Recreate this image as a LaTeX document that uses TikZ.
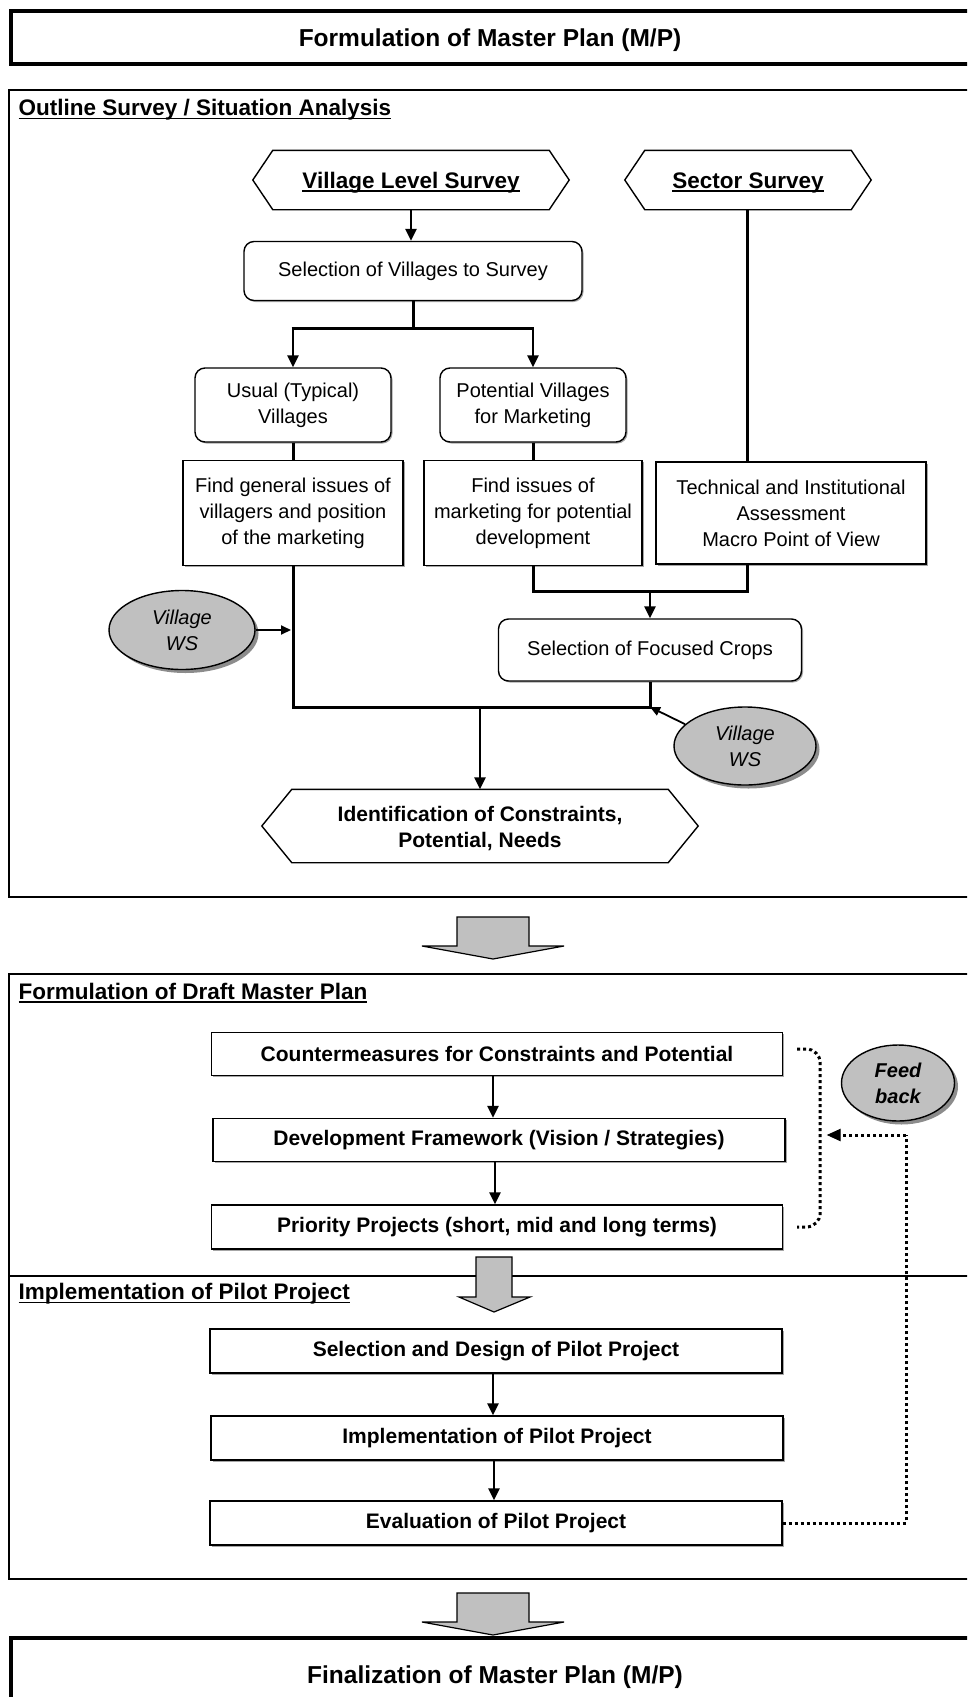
\documentclass[tikz,border=0pt]{standalone}
\usepackage{fontspec}
\setmainfont{Liberation Sans}
\usetikzlibrary{arrows.meta,shapes.geometric,shadows}
\definecolor{wsgray}{RGB}{192,192,192}
\newcommand{\myul}[1]{\setbox0\hbox{#1}\rlap{\rule[-3.5pt]{\wd0}{1.8pt}}\box0}
\begin{document}
\begin{tikzpicture}[x=1pt,y=-1pt,
  normtxt/.style={font=\fontsize{20}{26}\selectfont},
  boldtxt/.style={font=\bfseries\fontsize{21}{26}\selectfont},
  headtxt/.style={font=\bfseries\fontsize{22.5}{27}\selectfont},
  rbox/.style={draw, line width=1.4pt, rounded corners=10pt, fill=white, align=center, inner sep=0pt, normtxt,
     drop shadow={shadow xshift=1.5pt, shadow yshift=-1.5pt, fill=black!35, opacity=1}},
  sbox/.style={draw, line width=1.4pt, fill=white, align=center, inner sep=0pt, normtxt,
     drop shadow={shadow xshift=1.5pt, shadow yshift=-1.5pt, fill=black!35, opacity=1}},
  bbox/.style={sbox, boldtxt},
  hexlabel/.style={inner sep=0pt, align=center},
  wsnode/.style={ellipse, draw, line width=1.4pt, fill=wsgray, inner sep=0pt, align=center,
     font=\itshape\fontsize{20}{26}\selectfont,
     drop shadow={shadow xshift=3.5pt, shadow yshift=-3.5pt, fill=black!45, opacity=1}},
  conn/.style={line width=3pt},
  arr/.style={line width=2.6pt, -{Triangle[length=12pt,width=11pt]}},
  thinarr/.style={line width=1.8pt, -{Triangle[length=10pt,width=9pt]}},
  dotline/.style={line width=3pt, dash pattern=on 3pt off 3pt},
  blockarrow/.style={draw, line width=1.2pt, fill=wsgray, line join=miter},
  frame/.style={draw, line width=1.5pt},
  heavyframe/.style={draw, line width=3.5pt}
]
\useasboundingbox (0,0) rectangle (967,1697);
\clip (0,0) rectangle (967,1697);
\fill[white] (0,0) rectangle (967,1697);

% ---------- top title box ----------
\draw[heavyframe] (11,11) rectangle (995,64);
\node[font=\bfseries\fontsize{24.5}{28}\selectfont] (toptitle) at (490,40) {Formulation of Master Plan (M/P)};

% ---------- section 1 ----------
\draw[frame] (9,90) rectangle (995,897);
\node[headtxt, anchor=west] (s1title) at (15,110) {\myul{Outline Survey / Situation Analysis}};

\node[hexlabel, minimum width=316pt, minimum height=59pt] (vls) at (411,180) {};
\draw[line width=1.4pt, fill=white] (vls.west) -- ([xshift=20pt]vls.north west) -- ([xshift=-20pt]vls.north east)
   -- (vls.east) -- ([xshift=-20pt]vls.south east) -- ([xshift=20pt]vls.south west) -- cycle;
\node[hexlabel, headtxt] (vlslabel) at ([yshift=-3pt]vls.center) {\myul{Village Level Survey}};

\node[hexlabel, minimum width=246pt, minimum height=59pt] (ss) at (748,180) {};
\draw[line width=1.4pt, fill=white] (ss.west) -- ([xshift=20pt]ss.north west) -- ([xshift=-20pt]ss.north east)
   -- (ss.east) -- ([xshift=-20pt]ss.south east) -- ([xshift=20pt]ss.south west) -- cycle;
\node[hexlabel, headtxt] (sslabel) at ([yshift=-3pt]ss.center) {\myul{Sector Survey}};

\node[rbox, minimum width=338pt, minimum height=59pt] (sel) at (413,271) {Selection of Villages to Survey};
\node[rbox, minimum width=196pt, minimum height=74pt] (usual) at (293,405) {Usual (Typical)\\Villages};
\node[rbox, minimum width=186pt, minimum height=74pt] (pot) at (533,405) {Potential Villages\\for Marketing};

\node[sbox, minimum width=220pt, minimum height=105pt] (fg) at (293,513) {Find general issues of\\villagers and position\\of the marketing};
\node[sbox, minimum width=218pt, minimum height=105pt] (fi) at (533,513) {Find issues of\\marketing for potential\\development};
\node[sbox, minimum width=270pt, minimum height=102pt] (tech) at (791,513) {Technical and Institutional\\Assessment\\Macro Point of View};

\node[rbox, minimum width=303pt, minimum height=62pt] (fc) at (650,650) {Selection of Focused Crops};

\node[hexlabel, minimum width=436pt, minimum height=73pt] (idn) at (480,826) {};
\draw[line width=1.4pt, fill=white] (idn.west) -- ([xshift=30pt]idn.north west) -- ([xshift=-30pt]idn.north east)
   -- (idn.east) -- ([xshift=-30pt]idn.south east) -- ([xshift=30pt]idn.south west) -- cycle;
\node[hexlabel, boldtxt] (idnlabel) at ([yshift=-3pt]idn.center) {Identification of Constraints,\\Potential, Needs};

\node[wsnode, minimum width=146pt, minimum height=79pt] (wsl) at (182,630) {Village\\WS};
\node[wsnode, minimum width=142pt, minimum height=78pt] (wsr) at (745,746) {Village\\WS};

% connectors section 1
\draw[arr] (vls.south) -- (vls.south |- sel.north);
\coordinate (bl) at (293,328);
\coordinate (bri) at (533,328);
\draw[conn] (sel.south) -- (sel.south |- bl);
\draw[conn] ([xshift=-1.3pt]bl) -- ([xshift=1.3pt]bri);
\draw[arr] (bl) -- (bl |- usual.north);
\draw[arr] (bri) -- (bri |- pot.north);
\draw[conn] (usual.south) -- (fg.north);
\draw[conn] (pot.south) -- (fi.north);
\coordinate (j1) at (747,591);
\draw[conn] (747,209) -- (747,462);
\draw[conn] (fi.south) |- (j1) -- (j1 |- tech.south);
\draw[arr] (fc.north |- j1) -- (fc.north);
\coordinate (j2) at (650,707);
\draw[conn] (fg.south) |- (j2) -- (fc.south);
\draw[arr] (idn.north |- j2) -- (idn.north);
\coordinate (wslend) at (291,630);
\draw[thinarr] (wsl.east) -- (wslend);
\draw[thinarr] (wsr.160) -- (j2);

% ---------- block arrow 1 ----------
\draw[blockarrow] (457,917) -- (529,917) -- (529,946) -- (564,946) -- (493,959) -- (422,946) -- (457,946) -- cycle;

% ---------- section 2 & 3 ----------
\draw[frame] (9,974) rectangle (995,1579);
\draw[frame] (9,1276) -- (995,1276);
\node[headtxt, anchor=west] (s2title) at (15,993) {\myul{Formulation of Draft Master Plan}};
\node[headtxt, anchor=west] (s3title) at (15,1294) {\myul{Implementation of Pilot Project}};

\node[bbox, minimum width=571pt, minimum height=43pt] (cm) at (497,1054) {Countermeasures for Constraints and Potential};
\node[bbox, minimum width=572pt, minimum height=43pt] (df) at (499,1140) {Development Framework (Vision / Strategies)};
\node[bbox, minimum width=571pt, minimum height=44pt] (pp) at (497,1227) {Priority Projects (short, mid and long terms)};
\draw[arr] ([xshift=-4pt]cm.south) -- ([xshift=-4pt]cm.south |- df.north);
\draw[arr] ([xshift=-4pt]df.south) -- ([xshift=-4pt]df.south |- pp.north);

\node[bbox, minimum width=572pt, minimum height=44pt] (sp) at (496,1351) {Selection and Design of Pilot Project};
\node[bbox, minimum width=572pt, minimum height=44pt] (ip) at (497,1438) {Implementation of Pilot Project};
\node[bbox, minimum width=572pt, minimum height=44pt] (ev) at (496,1523) {Evaluation of Pilot Project};
\draw[arr] ([xshift=-3pt]sp.south) -- ([xshift=-3pt]sp.south |- ip.north);
\draw[arr] ([xshift=-3pt]ip.south) -- ([xshift=-3pt]ip.south |- ev.north);

% block arrow 2 (over divider)
\draw[blockarrow] (476,1257) -- (512,1257) -- (512,1297) -- (530,1297) -- (494,1312) -- (459,1297) -- (476,1297) -- cycle;

% feedback
\node[wsnode, minimum width=113pt, minimum height=76pt, font=\bfseries\itshape\fontsize{20}{26}\selectfont] (fb) at (898,1083) {Feed\\back};
\draw[dotline, rounded corners=14pt] ([xshift=14pt,yshift=5pt]cm.east) -| ([xshift=37pt]pp.east) -- ([xshift=14pt]pp.east);
\coordinate (fbc) at (906,1135);
\coordinate (fbend) at (828,1135);
\draw[dotline] (ev.east) -| (fbc);
\draw[dotline] (fbc) -- ([xshift=8pt]fbend);
\draw[line width=1pt, fill=black] (fbend) -- ++(12,-5.5) -- ++(0,11) -- cycle;

% ---------- block arrow 3 ----------
\draw[blockarrow] (457,1593) -- (529,1593) -- (529,1622) -- (564,1622) -- (493,1635) -- (422,1622) -- (457,1622) -- cycle;

% ---------- final box ----------
\draw[heavyframe] (11,1638) rectangle (995,1730);
\node[font=\bfseries\fontsize{24.5}{28}\selectfont] (fintitle) at (495,1677) {Finalization of Master Plan (M/P)};
\end{tikzpicture}
\end{document}
